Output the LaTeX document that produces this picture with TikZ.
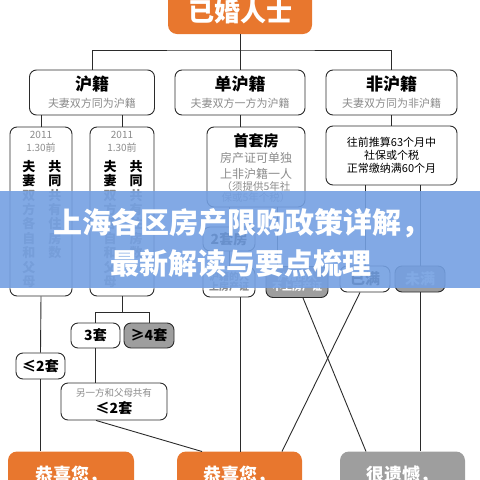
\documentclass[tikz,border=0pt]{standalone}
\usepackage{fontspec}
\setmainfont{Noto Sans CJK SC}
\definecolor{corange}{HTML}{E8772E}
\definecolor{cgrey}{HTML}{9E9E9E}
\definecolor{ctext}{HTML}{8C8C8C}
\definecolor{cline}{HTML}{2B2B2B}
\definecolor{cbanner}{HTML}{74A0E2}
\newcommand{\fs}[1]{\fontsize{#1}{#1}\selectfont}

\begin{document}
\begin{tikzpicture}[x=1pt,y=-1pt,
  box/.style={draw=cline,line width=0.9pt,rounded corners=7pt,fill=white,inner sep=0pt,align=center},
  greybox/.style={box,fill=cgrey},
  okbox/.style={fill=corange,rounded corners=9pt,inner sep=0pt,text=white,font=\fs{18}\bfseries},
  badbox/.style={okbox,fill=cgrey},
  link/.style={cline,line width=0.9pt},
  vert/.style={anchor=north,align=center,inner sep=0pt,font=\fontsize{13}{14.4}\selectfont\bfseries},
  small/.style={inner sep=0pt,text=ctext}]
  \useasboundingbox (0,0) rectangle (480,480);

  % top
  \node[okbox,minimum width=144pt,minimum height=44pt,font=\fs{26}\bfseries] (married) at (240,12) {已婚人士};

  % first row
  \node[box,minimum width=125pt,minimum height=45pt] (hu) at (92,92.5) {};
  \node[box,minimum width=130pt,minimum height=45pt] (dan) at (240,92.5) {};
  \node[box,minimum width=131pt,minimum height=45pt] (fei) at (391.5,92.5) {};
  \node[font=\fs{17}\bfseries] (hut) at (92,84) {沪籍};
  \node[font=\fs{17}\bfseries] (dant) at (240,84) {单沪籍};
  \node[font=\fs{17}\bfseries] (feit) at (391.5,84) {非沪籍};
  \node[small,font=\fs{11}] (hus) at (92,103) {夫妻双方同为沪籍};
  \node[small,font=\fs{11}] (dans) at (240,103) {夫妻双方一方为沪籍};
  \node[small,font=\fs{11}] (feis) at (391.5,103) {夫妻双方同为非沪籍};

  % hu branch
  \node[box,minimum width=62pt,minimum height=169pt] (hua) at (41,211.5) {};
  \node[box,minimum width=64pt,minimum height=169pt] (hub) at (122,211.5) {};
  \foreach \n/\x in {hua/41,hub/122} {
    \node[small,font=\fs{10}] (\n y) at (\x,135) {2011};
    \node[small,font=\fs{10}] (\n d) at (\x,148) {1.30前};
    \node[vert] (\n l) at (\x-12,160) {夫\\妻\\\textcolor{ctext}{双}\\\textcolor{ctext}{方}\\\textcolor{ctext}{各}\\\textcolor{ctext}{自}\\\textcolor{ctext}{和}\\\textcolor{ctext}{父}\\\textcolor{ctext}{母}};
    \node[vert] (\n r) at (\x+14,160) {共\\同\\\textcolor{ctext}{共}\\\textcolor{ctext}{有}\\\textcolor{ctext}{住}\\\textcolor{ctext}{房}\\\textcolor{ctext}{数}};
  }
  \node[box,minimum width=49pt,minimum height=26pt,font=\fs{14}\bfseries] (letwo) at (40.5,366) {≤2套};
  \node[box,minimum width=49pt,minimum height=25pt,font=\fs{14}\bfseries] (three) at (95.5,335.5) {3套};
  \node[greybox,minimum width=50pt,minimum height=25pt,font=\fs{14}\bfseries] (four) at (149,335.5) {≥4套};
  \node[box,minimum width=106pt,minimum height=37pt] (other) at (114,401.5) {};
  \node[small,font=\fs{9.5}] (othert) at (114,393) {另一方和父母共有};
  \node[font=\fs{14}\bfseries] (otherle) at (114,408) {≤2套};

  % dan branch
  \node[box,minimum width=98pt,minimum height=80pt] (first) at (256,167) {};
  \node[font=\fs{15}\bfseries] (firstt) at (256,141) {首套房};
  \node[small,font=\fs{12}] (firsta) at (256,158) {房产证可单独};
  \node[small,font=\fs{12}] (firstb) at (256,174) {上非沪籍一人};
  \node[small,font=\fs{10.5}] (firstc) at (256,187) {（须提供5年社};
  \node[small,font=\fs{10.5}] (firstd) at (256,198) {保或5年个税）};
  \node[box,minimum width=52pt,minimum height=24pt,font=\fs{14}\bfseries] (second) at (229,239) {2套房};
  \node[box,minimum width=52pt,minimum height=30pt,font=\fs{10}\bfseries,text=ctext] (onpaper) at (229,282) {沪籍的人\\上房产证};
  \node[greybox,minimum width=62pt,minimum height=31pt,font=\fs{10}\bfseries,text=white] (offpaper) at (297,282) {沪籍的人\\不上房产证};

  % fei branch
  \node[box,minimum width=131pt,minimum height=59pt,font=\fs{11}] (social) at (391.5,155.5) {};
  \node[font=\fs{11}] (sociala) at (391.5,142) {往前推算63个月中};
  \node[font=\fs{11}] (socialb) at (391.5,155) {社保或个税};
  \node[font=\fs{11}] (socialc) at (391.5,168) {正常缴纳满60个月};
  \node[box,minimum width=50pt,minimum height=26pt,font=\fs{15}\bfseries] (full) at (365,279) {已满};
  \node[greybox,minimum width=50pt,minimum height=26pt,font=\fs{15}\bfseries,text=white] (notfull) at (420,279) {未满};

  % results
  \node[okbox,minimum width=126pt,minimum height=47pt] (yesa) at (71,475) {恭喜您，};
  \node[okbox,minimum width=125pt,minimum height=47pt] (yesb) at (239.5,475) {恭喜您，};
  \node[badbox,minimum width=125pt,minimum height=47pt] (no) at (402.5,475) {很遗憾，};

  % connectors
  \draw[link] (married.south) -- (dan.north);
  \draw[link] (hu.north) |- (240,50) -| (fei.north);
  \draw[link] (hua.north) -- (hua.north |- hu.south);
  \draw[link] (hub.north) -- (hub.north |- hu.south);
  \draw[link] (dan.south) -- (dan.south |- first.north);
  \draw[link] (fei.south) -- (social.north);
  \draw[link] (full.north) -- (full.north |- social.south);
  \draw[link] (notfull.north) -- (notfull.north |- social.south);
  \draw[link] (second.north) -- (second.north |- first.south);
  \draw[link] (second.south) -- (onpaper.north);
  \draw[link] (offpaper.north -| 277,0) -- (277,0 |- first.south);
  \draw[link] (hua.south) -- (letwo.north);
  \draw[link] (letwo.south) -- (letwo.south |- yesa.north);
  \draw[link] (hub.south) -- (122,312) -| (three.north);
  \draw[link] (122,312) -| (four.north);
  \draw[link] (three.south) -- (three.south |- other.north);
  \draw[link] (other.south -| 96,0) -- (202,451.5);
  \draw[link] (onpaper.south -| 240,0) -- (240,451.5);
  \draw[link] (full.south -| 360,0) -- (282,451.5);
  \draw[link] (offpaper.south -| 303,0) -- (366,451.5);
  \draw[link] (notfull.south) -- (notfull.south |- no.north);

  % banner
  \fill[cbanner,opacity=0.9] (0,191) rectangle (480,288);
  \node[font=\fs{29}\bfseries,text=white] (titlea) at (242,223) {上海各区房产限购政策详解，};
  \node[font=\fs{29}\bfseries,text=white] (titleb) at (241,263) {最新解读与要点梳理};
\end{tikzpicture}
\end{document}
